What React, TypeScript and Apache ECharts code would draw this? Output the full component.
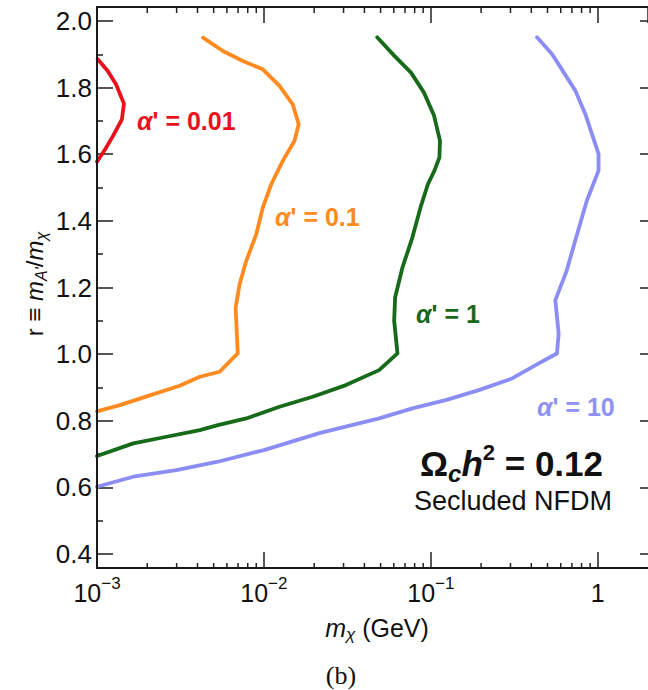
import React, { useEffect, useRef } from 'react';
import * as echarts from 'echarts';

// ---- data ----
const curveAlpha001: [number, number][] = [
  [1.01e-3, 1.885], [1.16e-3, 1.85], [1.3e-3, 1.81], [1.45e-3, 1.752], [1.41e-3, 1.705],
  [1.25e-3, 1.656], [1.11e-3, 1.612], [1.0e-3, 1.578],
];
const curveAlpha01: [number, number][] = [
  [1.0e-3, 0.828], [1.37e-3, 0.847], [2.07e-3, 0.876], [3.13e-3, 0.905], [4.13e-3, 0.932],
  [5.43e-3, 0.947], [6.97e-3, 1.002], [6.87e-3, 1.07], [6.77e-3, 1.14], [7.15e-3, 1.21],
  [7.84e-3, 1.28], [9.0e-3, 1.36], [9.85e-3, 1.44], [1.106e-2, 1.51], [1.297e-2, 1.58],
  [1.523e-2, 1.64], [1.616e-2, 1.69], [1.488e-2, 1.75], [1.24e-2, 1.805], [9.85e-3, 1.855],
  [7.48e-3, 1.88], [5.68e-3, 1.91], [4.32e-3, 1.95],
];
const curveAlpha1: [number, number][] = [
  [1.0e-3, 0.694], [1.65e-3, 0.732], [2.61e-3, 0.752], [4.13e-3, 0.772], [5.3e-3, 0.787],
  [7.84e-3, 0.807], [1.24e-2, 0.842], [1.96e-2, 0.872], [3.1e-2, 0.907], [4.9e-2, 0.952],
  [6.31e-2, 1.002], [6.03e-2, 1.1], [6.11e-2, 1.17], [6.76e-2, 1.26], [7.75e-2, 1.35],
  [8.74e-2, 1.446], [9.6e-2, 1.51], [0.105, 1.55], [0.1125, 1.59], [0.1135, 1.64],
  [0.1045, 1.716], [9.1e-2, 1.785], [7.61e-2, 1.845], [6.03e-2, 1.896], [4.77e-2, 1.951],
];
const curveAlpha10: [number, number][] = [
  [1.0e-3, 0.602], [1.65e-3, 0.632], [2.99e-3, 0.652], [5.3e-3, 0.677], [1.0e-2, 0.712],
  [2.15e-2, 0.763], [4.9e-2, 0.807], [7.75e-2, 0.837], [0.1227, 0.862], [0.194, 0.892],
  [0.307, 0.927], [0.443, 0.972], [0.57, 1.002], [0.583, 1.062], [0.557, 1.162],
  [0.651, 1.25], [0.734, 1.342], [0.861, 1.461], [1.011, 1.551], [1.011, 1.601],
  [0.842, 1.721], [0.734, 1.791], [0.532, 1.901], [0.4326, 1.951],
];
const xMinorTicks: number[] = [
  0.002, 0.003, 0.004, 0.005, 0.006, 0.007, 0.008, 0.009,
  0.02, 0.03, 0.04, 0.05, 0.06, 0.07, 0.08, 0.09,
  0.2, 0.3, 0.4, 0.5, 0.6, 0.7, 0.8, 0.9,
];
const seriesNames = ["α' = 0.01", "α' = 0.1", "α' = 1", "α' = 10"];
const colors = ['#e8121c', '#ff8a1f', '#176a1a', '#8b8df5'];

const FONT = '"Liberation Sans", Arial, Helvetica, sans-serif';

export default function App() {
  const ref = useRef<HTMLDivElement>(null);
  useEffect(() => {
    if (!ref.current) return;
    const chart = echarts.init(ref.current, null, { renderer: 'svg' });
    const GL = 97, GT = 21, GW = 553, GH = 533;
    const frameTop = 7, frameBottom = 568;

    const lineSeries = [curveAlpha001, curveAlpha01, curveAlpha1, curveAlpha10].map((d, i) => ({
      type: 'line',
      name: seriesNames[i],
      data: d,
      xAxisIndex: 0,
      yAxisIndex: 0,
      showSymbol: false,
      smooth: false,
      clip: false,
      lineStyle: { color: colors[i], width: 3.8, join: 'round', cap: 'round' },
      z: 3,
    }));

    const minorTickSeries = {
      type: 'custom',
      xAxisIndex: 0,
      yAxisIndex: 0,
      clip: false,
      silent: true,
      data: xMinorTicks.map((v) => [v, 0.4]),
      renderItem: (params: any, api: any) => {
        const p = api.coord([api.value(0), 0.4]);
        const x = p[0];
        return {
          type: 'group',
          children: [
            { type: 'line', shape: { x1: x, y1: frameBottom, x2: x, y2: frameBottom - 5 }, style: { stroke: '#222', lineWidth: 1.5 } },
            { type: 'line', shape: { x1: x, y1: frameTop, x2: x, y2: frameTop + 6 }, style: { stroke: '#222', lineWidth: 1.5 } },
          ],
        };
      },
      z: 4,
    };

    const supRich = {
      b: { fontSize: 25, fontFamily: FONT, color: '#111', lineHeight: 30, verticalAlign: 'bottom' },
      sup: { fontSize: 17, fontFamily: FONT, color: '#111', lineHeight: 30, verticalAlign: 'top' },
    };

    const alphaLabel = (text: string, x: number, y: number, fill: string) => ({
      type: 'text', x, y, z: 11,
      style: {
        text, fontSize: 25, fontWeight: 'bold', fontFamily: FONT, fill, align: 'left', verticalAlign: 'middle',
        rich: { a: { fontStyle: 'italic', fontWeight: 'bold', fontSize: 25, fontFamily: FONT } },
      },
    });

    const option: any = {
      animation: false,
      backgroundColor: '#fff',
      grid: { left: GL, top: GT, width: GW, height: GH, containLabel: false },
      xAxis: [
        {
          type: 'log', logBase: 10, min: 0.001, max: 2, position: 'bottom', offset: frameBottom - (GT + GH),
          axisLine: { show: false },
          axisTick: { show: true, inside: true, length: 16, lineStyle: { color: '#222', width: 1.5 } },
          minorTick: { show: false },
          splitLine: { show: false },
          axisLabel: {
            margin: 7,
            showMaxLabel: false,
            formatter: (v: number) => {
              const e = Math.round(Math.log10(v));
              if (Math.abs(Math.log10(v) - e) > 1e-6) return '';
              if (e === 0) return '{b|1}';
              return '{b|10}{sup|\u2212' + Math.abs(e) + '}';
            },
            rich: supRich,
          },
        },
        {
          type: 'log', logBase: 10, min: 0.001, max: 2, position: 'top', offset: GT - frameTop,
          axisLine: { show: false },
          axisTick: { show: true, inside: true, length: 16, lineStyle: { color: '#222', width: 1.5 } },
          axisLabel: { show: false },
          splitLine: { show: false },
        },
      ],
      yAxis: [
        {
          type: 'value', min: 0.4, max: 2.0, interval: 0.2, position: 'left',
          axisLine: { show: false },
          axisTick: { show: true, inside: true, length: 16, lineStyle: { color: '#555', width: 2 } },
          minorTick: { show: true, splitNumber: 2, length: 6, lineStyle: { color: '#555', width: 2 } },
          splitLine: { show: false },
          axisLabel: {
            margin: 5, fontSize: 26, fontFamily: FONT, color: '#111',
            formatter: (v: number) => v.toFixed(1),
          },
        },
        {
          type: 'value', min: 0.4, max: 2.0, interval: 0.2, position: 'right',
          axisLine: { show: false },
          axisTick: { show: true, inside: true, length: 8, lineStyle: { color: '#555', width: 2 } },
          axisLabel: { show: false },
          splitLine: { show: false },
        },
      ],
      series: [...lineSeries, minorTickSeries],
      graphic: [
        {
          type: 'rect', z: 10, silent: true,
          shape: { x: GL, y: frameTop, width: GW, height: frameBottom - frameTop },
          style: { fill: 'none', stroke: '#1a1a1a', lineWidth: 2 },
        },
        alphaLabel("{a|α}' = 0.01", 137, 121, colors[0]),
        alphaLabel("{a|α}' = 0.1", 275, 217, colors[1]),
        alphaLabel("{a|α}' = 1", 416, 314, colors[2]),
        alphaLabel("{a|α}' = 10", 537, 407, '#8f91f5'),
        {
          type: 'text', x: 420, y: 463, z: 11,
          style: {
            text: '{o|Ω}{c|c}{h|h}{s|2}{o| = 0.12}',
            fill: '#111', fontFamily: FONT, fontWeight: 'bold', fontSize: 35, align: 'left', verticalAlign: 'middle',
            rich: {
              o: { fontSize: 35, fontWeight: 'bold', fontFamily: FONT, lineHeight: 44, verticalAlign: 'middle' },
              c: { fontSize: 24, fontWeight: 'bold', fontStyle: 'italic', fontFamily: FONT, lineHeight: 44, verticalAlign: 'bottom' },
              h: { fontSize: 35, fontWeight: 'bold', fontStyle: 'italic', fontFamily: FONT, lineHeight: 44, verticalAlign: 'middle' },
              s: { fontSize: 22, fontWeight: 'bold', fontFamily: FONT, lineHeight: 44, verticalAlign: 'top' },
            },
          },
        },
        {
          type: 'text', x: 414, y: 501, z: 11,
          style: { text: 'Secluded NFDM', fontSize: 27, fontFamily: FONT, fill: '#111', align: 'left', verticalAlign: 'middle' },
        },
        {
          type: 'text', x: 377, y: 628, z: 11,
          style: {
            text: '{i|m}{s|χ} (GeV)', fontSize: 25, fontFamily: FONT, fill: '#111', align: 'center', verticalAlign: 'middle',
            rich: {
              i: { fontStyle: 'italic', fontSize: 25, fontFamily: FONT, lineHeight: 30, verticalAlign: 'middle' },
              s: { fontStyle: 'italic', fontSize: 17, fontFamily: FONT, lineHeight: 30, verticalAlign: 'bottom' },
            },
          },
        },
        {
          type: 'text', x: 341, y: 675, z: 11,
          style: { text: '(b)', fontSize: 26, fontFamily: '"Liberation Serif", "DejaVu Serif", serif', fill: '#111', align: 'center', verticalAlign: 'middle' },
        },
        {
          type: 'text', x: 34, y: 284, rotation: Math.PI / 2, z: 11,
          style: {
            text: 'r \u2261 {i|m}{s|A\'}/{i|m}{s|χ}', fontSize: 24, fontFamily: FONT, fill: '#111', align: 'center', verticalAlign: 'middle',
            rich: {
              i: { fontStyle: 'italic', fontSize: 24, fontFamily: FONT, lineHeight: 30, verticalAlign: 'middle' },
              s: { fontStyle: 'italic', fontSize: 16, fontFamily: FONT, lineHeight: 30, verticalAlign: 'bottom' },
            },
          },
        },
      ],
    };
    chart.setOption(option);
    return () => chart.dispose();
  }, []);
  return <div ref={ref} style={{ position: 'fixed', left: 0, top: 0, width: 648, height: 690 }} />;
}
